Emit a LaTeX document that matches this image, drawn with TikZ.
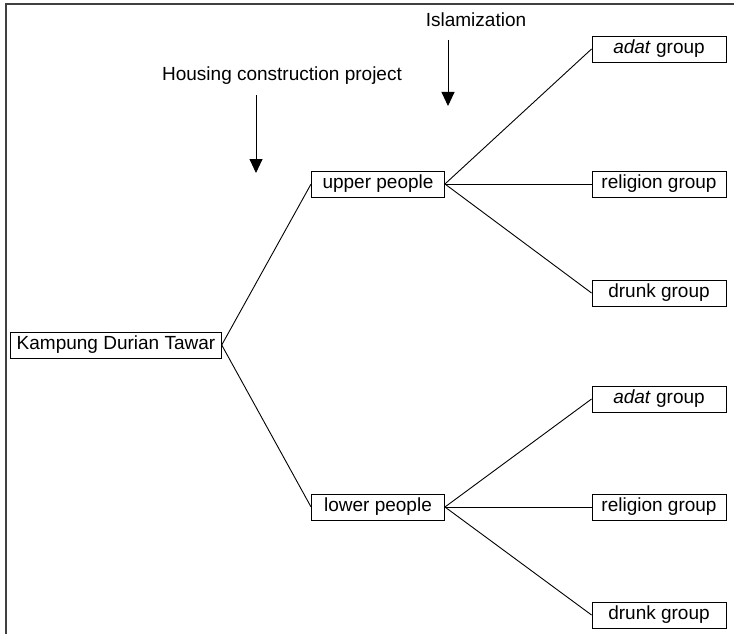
\documentclass[tikz,border=0pt]{standalone}
\usepackage{fontspec}
\setmainfont{Liberation Sans}
\usetikzlibrary{arrows.meta,positioning}
\tikzset{%
	block/.style    = {draw, rectangle, line width=0.9pt, minimum height=26pt, inner xsep=6pt, inner ysep=2pt, font=\fontsize{19}{21}\selectfont},
	group/.style    = {block, minimum width=134pt},
	people/.style   = {block, minimum width=133pt},
	label/.style    = {font=\fontsize{19}{21}\selectfont},
	branch/.style   = {line width=0.9pt},
	arrow/.style    = {line width=0.9pt, -{Triangle[width=13pt,length=14pt]}},
}

\begin{document}
\begin{tikzpicture}[x=1pt,y=-1pt]
	\useasboundingbox (0,0) rectangle (734,634);
	\draw[line width=2pt, black!75] (6,634) -- (6,4) -- (734,4);
	% root and middle level
	\node [block] (K) at (116,345) {Kampung Durian Tawar};
	\node [people] (U) at (378,184) {upper people};
	\node [people] (L) at (378,507) {lower people};
	% groups
	\node [group] (Ua) at (659,49) {\textit{adat} group};
	\node [group] (Ur) at (659,184) {religion group};
	\node [group] (Ud) at (659,293) {drunk group};
	\node [group] (La) at (659,399) {\textit{adat} group};
	\node [group] (Lr) at (659,507) {religion group};
	\node [group] (Ld) at (659,615) {drunk group};
	% influences
	\node [label] (I) at (476,20) {Islamization};
	\node [label] (H) at (282,76) {Housing construction project};
	\coordinate (Is) at (448,40);
	\coordinate (Ie) at (448,106);
	\coordinate (Hs) at (256,95);
	\coordinate (He) at (256,173);
	\draw[arrow] (Is) -- (Ie);
	\draw[arrow] (Hs) -- (He);
	% branches
	\draw[branch] (K.east) -- (U.west);
	\draw[branch] (K.east) -- (L.west);
	\foreach \g in {Ua,Ur,Ud} \draw[branch] (U.east) -- (\g.west);
	\foreach \g in {La,Lr,Ld} \draw[branch] (L.east) -- (\g.west);
\end{tikzpicture}
\end{document}
